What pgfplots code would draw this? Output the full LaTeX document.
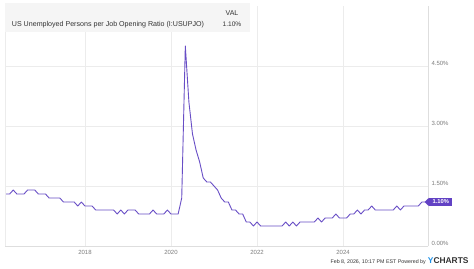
\documentclass[border=0pt]{standalone}
\usepackage{pgfplots}
\pgfplotsset{compat=1.18}
\usepackage{pgfplotstable}
\usepackage{fontspec}
\setmainfont{Liberation Sans}
\definecolor{ycpurple}{RGB}{104,78,198}
\definecolor{ycbox}{RGB}{98,66,196}
\definecolor{tickgray}{RGB}{125,125,125}
\definecolor{gridgray}{RGB}{236,236,236}
\definecolor{axisgray}{RGB}{222,222,222}
\definecolor{boxgray}{RGB}{245,245,245}
\definecolor{txt}{RGB}{51,51,51}
\definecolor{ycblue}{RGB}{28,145,232}

\pgfplotstableread{
v
1.3
1.3
1.4
1.3
1.3
1.3
1.4
1.4
1.4
1.3
1.3
1.3
1.2
1.2
1.2
1.2
1.1
1.1
1.1
1.1
1.0
1.1
1.0
1.0
1.0
0.9
0.9
0.9
0.9
0.9
0.9
0.8
0.9
0.8
0.9
0.9
0.9
0.8
0.8
0.8
0.8
0.9
0.8
0.8
0.8
0.9
0.8
0.8
0.8
1.2
5.0
3.6
2.8
2.4
2.1
1.7
1.6
1.6
1.5
1.4
1.2
1.1
1.1
0.9
0.9
0.8
0.8
0.6
0.6
0.5
0.6
0.5
0.5
0.5
0.5
0.5
0.5
0.5
0.6
0.5
0.6
0.5
0.6
0.6
0.6
0.6
0.6
0.7
0.6
0.7
0.7
0.7
0.8
0.7
0.7
0.7
0.8
0.8
0.9
0.8
0.9
0.9
1.0
0.9
0.9
0.9
0.9
0.9
0.9
1.0
0.9
1.0
1.0
1.0
1.0
1.0
1.1
1.1
}\ratio

\begin{document}
\begin{tikzpicture}
\path[use as bounding box] (0,0) rectangle (474pt,268pt);
\fill[white] (0,0) rectangle (474pt,268pt);
\begin{axis}[
  at={(5pt,22pt)}, anchor=south west,
  scale only axis, width=423pt, height=240pt,
  xmin=1.7, xmax=119.7, ymin=0, ymax=6,
  axis x line*=bottom, axis y line*=right,
  axis line style={draw=axisgray, line width=0.6pt},
  xtick={24,48,72,96}, xticklabels={2018,2020,2022,2024},
  ytick={0,1.5,3,4.5}, yticklabels={0.00\%,1.50\%,3.00\%,4.50\%},
  major tick length=0pt,
  grid=major, grid style={draw=gridgray, line width=0.6pt},
  tick label style={font=\fontsize{6}{7}\selectfont, text=tickgray},
  xticklabel style={anchor=center, yshift=-6.7pt},
  yticklabel style={anchor=west, yshift=2.7pt},
  clip=false,
]
\draw[gridgray, line width=0.6pt] (rel axis cs:0,0) -- (rel axis cs:0,1);
\addplot[ycpurple, line width=0.9pt, line join=round, mark=none] table[x expr=\coordindex+2, y=v] {\ratio};
\node[fill=ycbox, text=white, font=\bfseries\fontsize{5.8}{6}\selectfont, anchor=west, inner xsep=3.3pt, inner ysep=0pt, minimum height=8pt, xshift=1pt] (lbl) at (axis cs:119.7,1.1) {1.10\%};
\fill[ycbox] (lbl.north west) -- ([xshift=-4.5pt]lbl.west) -- (lbl.south west) -- cycle;
\end{axis}
\fill[boxgray] (5pt,236pt) rectangle (250pt,265pt);
\node[anchor=base west, font=\fontsize{7.1}{8}\selectfont, text=txt, inner sep=0pt] at (11.7pt,241.8pt) {US Unemployed Persons per Job Opening Ratio (I:USUPJO)};
\node[anchor=base, font=\fontsize{7}{8}\selectfont, text=txt, inner sep=0pt] at (232pt,252.8pt) {VAL};
\node[anchor=base, font=\fontsize{6.6}{8}\selectfont, text=txt, inner sep=0pt] at (232pt,241.8pt) {1.10\%};
\node[anchor=base east, font=\fontsize{5.3}{6}\selectfont, text=txt, inner sep=0pt] at (426pt,4.8pt) {Feb 8, 2026, 10:17 PM EST Powered by};
\node[anchor=base west, font=\bfseries\fontsize{8.4}{9}\selectfont, inner sep=0pt] at (427.7pt,4.8pt) {\textcolor{ycblue}{Y}\textcolor{txt}{CHARTS}};
\end{tikzpicture}
\end{document}
